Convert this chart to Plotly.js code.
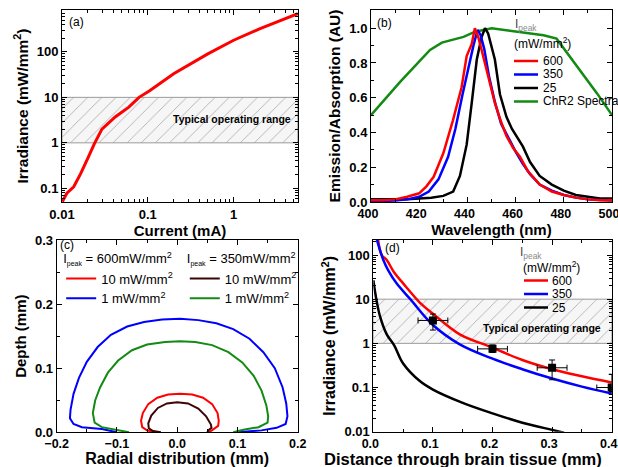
<!DOCTYPE html>
<html>
<head>
<meta charset="utf-8">
<script src="https://cdn.plot.ly/plotly-3.0.1.min.js"></script>
<style>html,body{margin:0;padding:0;background:#fff}#plot{width:618px;height:467px}</style>
</head>
<body>
<div id="plot"></div>
<script>
// ---------- Panel (a): irradiance vs current ----------
const currentA = [0.0101, 0.0114, 0.0137, 0.0165, 0.0199, 0.0238, 0.0292, 0.0417, 0.060, 0.079, 0.105, 0.126, 0.2, 0.5, 1.0, 2.0, 5.6];
const irradA   = [0.051, 0.078, 0.108, 0.21, 0.45, 0.95, 2.0, 3.7, 6.1, 10, 14, 18, 33, 90, 180, 320, 690];

// ---------- Panel (b): emission spectra ----------
const wlRed   = [400, 405, 410, 415, 420, 423, 426, 430, 434, 437.6, 439.7, 441.8, 443.1, 444.5, 445.9, 448.6, 451.4, 454, 456.2, 459, 461.8, 465, 470, 475, 480, 485, 490, 495, 500];
const emRed   = [0.01, 0.01, 0.015, 0.03, 0.05, 0.09, 0.145, 0.28, 0.47, 0.66, 0.84, 0.91, 1.0, 0.95, 0.875, 0.72, 0.57, 0.46, 0.38, 0.31, 0.26, 0.18, 0.1, 0.06, 0.04, 0.025, 0.015, 0.01, 0.01];
const wlBlue  = [400, 405, 410, 415, 420, 424, 428, 432, 435, 438, 440.5, 442.5, 444.2, 445.5, 447, 449, 451.5, 454, 457, 460, 463, 466, 470, 475, 480, 485, 490, 495, 500];
const emBlue  = [0.005, 0.005, 0.008, 0.015, 0.03, 0.06, 0.13, 0.26, 0.42, 0.62, 0.78, 0.9, 0.99, 0.96, 0.88, 0.72, 0.57, 0.45, 0.37, 0.29, 0.22, 0.16, 0.1, 0.065, 0.04, 0.025, 0.015, 0.01, 0.008];
const wlBlack = [400, 405, 410, 415, 420, 425, 430, 434.1, 436.9, 439.7, 441.8, 443.9, 445.9, 447.3, 448.6, 450, 451.4, 453.5, 456.2, 458.5, 460.4, 463, 466, 470, 475, 480, 485, 490, 495, 500];
const emBlack = [0.015, 0.015, 0.015, 0.015, 0.02, 0.025, 0.035, 0.06, 0.15, 0.33, 0.57, 0.82, 0.95, 1.0, 0.97, 0.9, 0.82, 0.62, 0.49, 0.42, 0.38, 0.32, 0.23, 0.15, 0.1, 0.065, 0.04, 0.03, 0.02, 0.02];
const wlChR2  = [400, 412, 424.5, 429.4, 438.4, 443.2, 450.1, 460.5, 471.6, 477, 485.5, 493.8, 500];
const absChR2 = [0.5, 0.69, 0.875, 0.917, 0.95, 0.98, 1.0, 0.98, 0.96, 0.94, 0.78, 0.625, 0.5];

// ---------- Panel (c): iso-irradiance contours ----------
const c600_10x = [-0.037, -0.05, -0.058, -0.06, -0.057, -0.048, -0.033, -0.015, 0.005, 0.025, 0.043, 0.058, 0.067, 0.069, 0.068, 0.06, 0.053];
const c600_10y = [0.0, 0.003, 0.008, 0.018, 0.03, 0.044, 0.054, 0.059, 0.06, 0.059, 0.054, 0.044, 0.03, 0.018, 0.01, 0.005, 0.0];
const c600_1x  = [-0.1, -0.125, -0.158, -0.172, -0.178, -0.177, -0.172, -0.163, -0.15, -0.132, -0.11, -0.083, -0.055, -0.025, 0.005, 0.035, 0.065, 0.093, 0.12, 0.143, 0.162, 0.175, 0.181, 0.183, 0.18, 0.165, 0.14, 0.1];
const c600_1y  = [0.0, 0.005, 0.008, 0.013, 0.022, 0.035, 0.06, 0.085, 0.11, 0.133, 0.152, 0.165, 0.172, 0.176, 0.177, 0.175, 0.17, 0.161, 0.146, 0.125, 0.1, 0.07, 0.045, 0.025, 0.013, 0.007, 0.003, 0.0];
const c350_10x = [-0.027, -0.04, -0.047, -0.048, -0.043, -0.032, -0.017, 0.0, 0.018, 0.035, 0.048, 0.056, 0.057, 0.053, 0.05];
const c350_10y = [0.0, 0.002, 0.006, 0.014, 0.026, 0.038, 0.045, 0.047, 0.045, 0.037, 0.025, 0.012, 0.007, 0.004, 0.0];
const c350_1x  = [-0.08, -0.1, -0.125, -0.137, -0.14, -0.136, -0.128, -0.115, -0.098, -0.075, -0.05, -0.02, 0.005, 0.03, 0.058, 0.085, 0.108, 0.127, 0.14, 0.148, 0.151, 0.15, 0.135, 0.11, 0.093];
const c350_1y  = [0.0, 0.004, 0.008, 0.015, 0.03, 0.05, 0.07, 0.093, 0.112, 0.128, 0.137, 0.141, 0.142, 0.141, 0.136, 0.125, 0.109, 0.088, 0.065, 0.042, 0.025, 0.015, 0.008, 0.004, 0.0];

// ---------- Panel (d): irradiance vs distance ----------
const dRed   = [0.008, 0.014, 0.0225, 0.035, 0.05, 0.078, 0.1, 0.145, 0.2, 0.25, 0.3, 0.35, 0.4];
const iRed   = [220, 100, 77, 40, 22.8, 8.4, 4.7, 1.6, 0.8, 0.42, 0.26, 0.18, 0.13];
const dBlue  = [0.006, 0.0168, 0.025, 0.039, 0.062, 0.1, 0.145, 0.2, 0.25, 0.3, 0.35, 0.4];
const iBlue  = [220, 77, 45, 22.8, 10, 2.6, 0.95, 0.45, 0.26, 0.16, 0.105, 0.073];
const dBlack = [0.0, 0.005, 0.011, 0.0225, 0.035, 0.05, 0.078, 0.1, 0.15, 0.2, 0.25, 0.3, 0.32];
const iBlack = [27, 10, 4.2, 1.6, 0.9, 0.35, 0.14, 0.09, 0.045, 0.026, 0.016, 0.011, 0.0095];
const dMeas  = [0.1, 0.2, 0.3, 0.4];
const iMeas  = [3.3, 0.75, 0.28, 0.1];
const iErrUp = [1.3, 0.17, 0.14, 0.1];
const iErrDn = [1.3, 0.13, 0.13, 0.03];
const dErr   = [0.025, 0.025, 0.025, 0.025];

// Typical operating range band (mW/mm^2)
const bandRange = [1, 10];

// Legend labels
const legendB = ['600', '350', '25', 'ChR2 Spectra'];
const legendD = ['600', '350', '25'];
const colorsB = ['#ff0000', '#0000ff', '#000000', '#138a13'];

const FONT = 'Liberation Sans, Arial, sans-serif';
const W = 618, H = 467;
const px = v => v / W, py = v => 1 - v / H;

function band(xaxis, yaxis, x0, x1) {
  return {
    x: [x0, x1, x1, x0, x0], y: [bandRange[0], bandRange[0], bandRange[1], bandRange[1], bandRange[0]],
    xaxis: xaxis, yaxis: yaxis, mode: 'lines', fill: 'toself',
    fillcolor: '#f3f3f3',
    fillpattern: {shape: '/', fgcolor: '#a8a8a8', bgcolor: '#f6f6f6', size: 10, solidity: 0.08},
    line: {color: '#9a9a9a', width: 1}, showlegend: false, hoverinfo: 'skip'
  };
}

const traces = [
  band('x', 'y', 0.01, 5.6),
  {x: currentA, y: irradA, xaxis: 'x', yaxis: 'y', mode: 'lines', line: {color: '#ff0000', width: 3}, showlegend: false},

  {x: wlChR2, y: absChR2, xaxis: 'x2', yaxis: 'y2', mode: 'lines', line: {color: colorsB[3], width: 2.5}, name: legendB[3], showlegend: false},
  {x: wlBlack, y: emBlack, xaxis: 'x2', yaxis: 'y2', mode: 'lines', line: {color: colorsB[2], width: 2.5}, name: legendB[2], showlegend: false},
  {x: wlBlue, y: emBlue, xaxis: 'x2', yaxis: 'y2', mode: 'lines', line: {color: colorsB[1], width: 2.5}, name: legendB[1], showlegend: false},
  {x: wlRed, y: emRed, xaxis: 'x2', yaxis: 'y2', mode: 'lines', line: {color: colorsB[0], width: 2.5}, name: legendB[0], showlegend: false},

  {x: c600_10x, y: c600_10y, xaxis: 'x3', yaxis: 'y3', mode: 'lines', line: {color: '#ff0000', width: 2}, name: '10 mW/mm<sup>2</sup>', legend: 'legend3', legendrank: 1},
  {x: c600_1x, y: c600_1y, xaxis: 'x3', yaxis: 'y3', mode: 'lines', line: {color: '#0000ff', width: 2}, name: '1 mW/mm<sup>2</sup>', legend: 'legend3', legendrank: 2},
  {x: c350_10x, y: c350_10y, xaxis: 'x3', yaxis: 'y3', mode: 'lines', line: {color: '#3d0505', width: 2}, name: '10 mW/mm<sup>2</sup>', legend: 'legend4', legendrank: 1},
  {x: c350_1x, y: c350_1y, xaxis: 'x3', yaxis: 'y3', mode: 'lines', line: {color: '#138a13', width: 2}, name: '1 mW/mm<sup>2</sup>', legend: 'legend4', legendrank: 2},

  band('x4', 'y4', 0, 0.4),
  {x: dRed, y: iRed, xaxis: 'x4', yaxis: 'y4', mode: 'lines', line: {color: colorsB[0], width: 2.5, shape: 'spline'}, name: legendD[0], showlegend: false},
  {x: dBlue, y: iBlue, xaxis: 'x4', yaxis: 'y4', mode: 'lines', line: {color: colorsB[1], width: 2.5, shape: 'spline'}, name: legendD[1], showlegend: false},
  {x: dBlack, y: iBlack, xaxis: 'x4', yaxis: 'y4', mode: 'lines', line: {color: colorsB[2], width: 2.5, shape: 'spline'}, name: legendD[2], showlegend: false},
  {x: dMeas, y: iMeas, xaxis: 'x4', yaxis: 'y4', mode: 'markers', marker: {symbol: 'square', size: 8, color: '#000'},
   error_y: {type: 'data', array: iErrUp, arrayminus: iErrDn, color: '#000', thickness: 1, width: 3},
   error_x: {type: 'data', array: dErr, color: '#000', thickness: 1, width: 3}, showlegend: false}
];

function ax(extra, tsize) {
  return Object.assign({
    showline: true, linecolor: '#000', linewidth: 1, mirror: 'allticks',
    ticks: 'inside', ticklen: 5, tickcolor: '#000', showgrid: false, zeroline: false,
    ticklabeloverflow: 'allow',
    tickfont: {family: FONT, size: tsize || 13, color: '#000', weight: 'bold'},
    minor: {ticks: 'inside', ticklen: 3, tickcolor: '#000', showgrid: false}
  }, extra);
}
function ttl(text, standoff, size) {
  return {text: text, font: {family: FONT, size: size || 15, color: '#000', weight: 'bold'}, standoff: standoff};
}
const mnr = d => ({ticks: 'inside', ticklen: 3, dtick: d, tickcolor: '#000', showgrid: false});

const legFont = {family: FONT, size: 12, color: '#000'};
const c3Font = {family: FONT, size: 13, color: '#000'};
const ann = [
  {text: '(a)', x: px(67), y: py(22), xanchor: 'left', font: {family: FONT, size: 12}},
  {text: '(b)', x: px(375), y: py(23), xanchor: 'left', font: {family: FONT, size: 12}},
  {text: '(c)', x: px(58), y: py(245), xanchor: 'left', font: {family: FONT, size: 12}},
  {text: '(d)', x: px(383), y: py(248), xanchor: 'left', font: {family: FONT, size: 12}},
  {text: 'Typical operating range', x: px(232), y: py(119), xanchor: 'center', font: {family: FONT, size: 10.5, weight: 'bold'}},
  {text: 'Typical operating range', x: px(542), y: py(328), xanchor: 'center', font: {family: FONT, size: 10.5, weight: 'bold'}},
  // x title of panel (d), set off-centre to the left as in the source figure
  {text: 'Distance through brain tissue (mm)', x: px(463), y: py(458.5), xanchor: 'center',
   font: {family: FONT, size: 16.5, weight: 'bold', color: '#000'}},
  // legend (b) header
  {text: '<span style="color:#444">I<sub><span style="color:#888">peak</span></sub></span>', x: px(513), y: py(25), xanchor: 'left', font: legFont},
  {text: '(mW/mm<sup>2</sup>)', x: px(512), y: py(43), xanchor: 'left', font: legFont},
  // legend (d) header
  {text: '<span style="color:#444">I<sub><span style="color:#888">peak</span></sub></span>', x: px(518), y: py(253), xanchor: 'left', font: legFont},
  {text: '(mW/mm<sup>2</sup>)', x: px(521), y: py(267), xanchor: 'left', font: legFont}
];
const shp = [];
const rowsB = [61, 74.5, 88, 101.5];
legendB.forEach((t, i) => {
  ann.push({text: t, x: px(541), y: py(rowsB[i]), xanchor: 'left', font: legFont});
  shp.push({type: 'line', xref: 'paper', yref: 'paper', x0: px(514), x1: px(538), y0: py(rowsB[i]), y1: py(rowsB[i]), line: {color: colorsB[i], width: 2.5}});
});
const rowsD = [280.5, 294, 307.5];
legendD.forEach((t, i) => {
  ann.push({text: t, x: px(550), y: py(rowsD[i]), xanchor: 'left', font: legFont});
  shp.push({type: 'line', xref: 'paper', yref: 'paper', x0: px(524), x1: px(548), y0: py(rowsD[i]), y1: py(rowsD[i]), line: {color: colorsB[i], width: 2.5}});
});
ann.forEach(a => { a.xref = 'paper'; a.yref = 'paper'; a.showarrow = false; a.yanchor = 'middle'; });

const layout = {
  width: W, height: H, margin: {l: 0, r: 0, t: 0, b: 0},
  paper_bgcolor: '#fff', plot_bgcolor: '#fff',
  font: {family: FONT, size: 13, color: '#000'},
  xaxis: ax({type: 'log', domain: [0.1003, 0.4822], range: [-2, 0.75], anchor: 'y', dtick: 1,
             title: ttl('Current (mA)', 2, 15)}),
  yaxis: ax({type: 'log', domain: [0.5675, 0.9786], range: [-1.3, 2.92], anchor: 'x', dtick: 1,
             title: ttl('Irradiance (mW/mm<sup>2</sup>)', 4, 15.5)}),
  xaxis2: ax({domain: [0.6003, 0.9903], range: [400, 500], anchor: 'y2', dtick: 20, minor: mnr(10), ticklabelshift: -3,
              title: ttl('Wavelength (nm)', 2, 15)}, 12.5),
  yaxis2: ax({domain: [0.5675, 0.9786], range: [0, 1.105], anchor: 'x2', dtick: 0.2, tickformat: '.1f', minor: mnr(0.1),
              title: ttl('Emission/Absorption (AU)', 4, 15.5)}),
  xaxis3: ax({domain: [0.0917, 0.4817], range: [-0.2, 0.2], anchor: 'y3', dtick: 0.1, tickformat: '.1f', minor: mnr(0.05),
              title: ttl('Radial distribution (mm)', 0, 16)}, 12.5),
  yaxis3: ax({domain: [0.0743, 0.4861], range: [0, 0.3], anchor: 'x3', dtick: 0.1, tickformat: '.1f', minor: mnr(0.05),
              title: ttl('Depth (mm)', 4, 15)}),
  xaxis4: ax({domain: [0.6041, 0.9898], range: [0, 0.4], anchor: 'y4', dtick: 0.1, tickformat: '.1f', minor: mnr(0.05), ticklabelshift: -3}, 12.5),
  yaxis4: ax({type: 'log', domain: [0.0756, 0.4861], range: [-2, 2.34], anchor: 'x4', dtick: 1,
              title: ttl('Irradiance (mW/mm<sup>2</sup>)', 4, 16)}),
  legend3: {x: 0.099, y: 0.472, xanchor: 'left', yanchor: 'top', bgcolor: 'rgba(0,0,0,0)', font: c3Font, tracegroupgap: 0,
            itemwidth: 30, traceorder: 'normal',
            title: {text: 'I<sub><span style="font-size:7px">peak</span></sub> = 600mW/mm<sup>2</sup>', font: c3Font, side: 'top'}},
  legend4: {x: 0.299, y: 0.472, xanchor: 'left', yanchor: 'top', bgcolor: 'rgba(0,0,0,0)', font: c3Font, tracegroupgap: 0,
            itemwidth: 30, traceorder: 'normal',
            title: {text: 'I<sub><span style="font-size:7px">peak</span></sub> = 350mW/mm<sup>2</sup>', font: c3Font, side: 'top'}},
  annotations: ann,
  shapes: shp
};

Plotly.newPlot('plot', traces, layout, {staticPlot: true, displayModeBar: false});
</script>
</body>
</html>
